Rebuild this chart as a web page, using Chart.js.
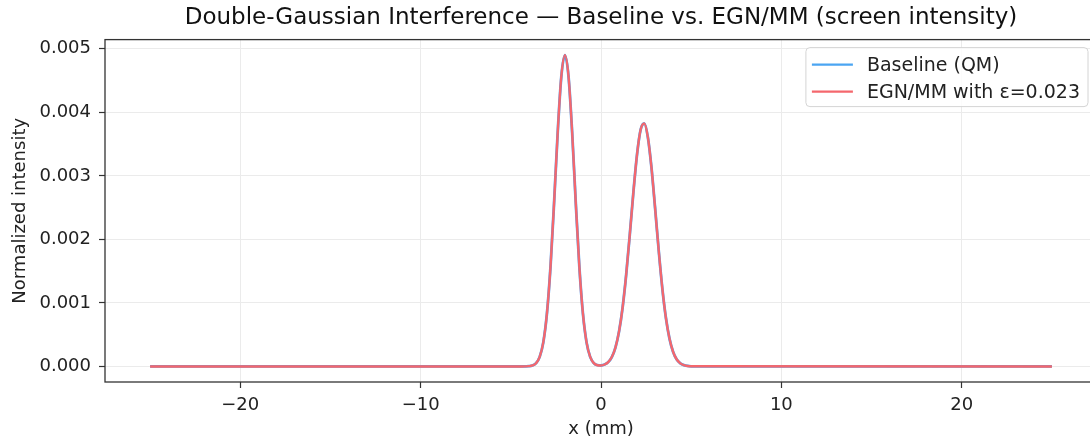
<!DOCTYPE html>
<html>
<head>
<meta charset="utf-8">
<title>Double-Gaussian Interference</title>
<script src="https://cdn.jsdelivr.net/npm/chart.js@4.4.1/dist/chart.umd.min.js"></script>
<style>
  html, body { margin: 0; padding: 0; background: #fff; overflow: hidden; }
  #wrap { width: 1110px; height: 440px; }
</style>
</head>
<body>
<div id="wrap"><canvas id="screenChart" width="1110" height="440"></canvas></div>
<script>
// screen position (mm)
const xPos = [
  -25,
  -4.4, -4.2, -4.0, -3.8, -3.6, -3.4, -3.2, -3.0, -2.8, -2.6,
  -2.4, -2.2, -2.0, -1.8, -1.6, -1.4, -1.2, -1.0, -0.8, -0.6,
  -0.4, -0.2, 0.0, 0.2, 0.4, 0.6, 0.8, 1.0, 1.2, 1.4,
  1.6, 1.8, 2.0, 2.2, 2.4, 2.6, 2.8, 3.0, 3.2, 3.4,
  3.6, 3.8, 4.0, 4.2, 4.4, 4.6, 4.8, 5.0,
  25
];

// normalized intensity, plain QM
const baseline = [
  0,
  0.000000, 0.000001, 0.000004, 0.000015, 0.000051, 0.000150, 0.000378, 0.000826, 0.001568, 0.002582,
  0.003686, 0.004564, 0.004900, 0.004564, 0.003686, 0.002582, 0.001568, 0.000826, 0.000378, 0.000150,
  0.000052, 0.000019, 0.000015, 0.000030, 0.000068, 0.000148, 0.000297, 0.000549, 0.000932, 0.001455,
  0.002088, 0.002755, 0.003343, 0.003729, 0.003824, 0.003605, 0.003125, 0.002491, 0.001825, 0.001230,
  0.000762, 0.000434, 0.000227, 0.000109, 0.000048, 0.000020, 0.000007, 0.000002,
  0
];

// normalized intensity, EGN/MM correction
const egnmm = [
  0,
  0.000000, 0.000001, 0.000004, 0.000015, 0.000051, 0.000150, 0.000378, 0.000826, 0.001568, 0.002582,
  0.003686, 0.004564, 0.004900, 0.004564, 0.003686, 0.002582, 0.001568, 0.000826, 0.000378, 0.000150,
  0.000052, 0.000019, 0.000015, 0.000030, 0.000068, 0.000148, 0.000297, 0.000549, 0.000932, 0.001455,
  0.002088, 0.002755, 0.003343, 0.003729, 0.003824, 0.003605, 0.003125, 0.002491, 0.001825, 0.001230,
  0.000762, 0.000434, 0.000227, 0.000109, 0.000048, 0.000020, 0.000007, 0.000002,
  0
];

const xTicks = [-20, -10, 0, 10, 20];
const yTicks = [0, 0.001, 0.002, 0.003, 0.004, 0.005];

const FONT = '"DejaVu Sans", "Liberation Sans", sans-serif';
Chart.defaults.font.family = FONT;
Chart.defaults.color = '#222';

// 5% margins on both axes
function padded(vals) {
  const lo = Math.min(...vals), hi = Math.max(...vals);
  const m = (hi - lo) * 0.05;
  return [lo - m, hi + m];
}
const [xMin, xMax] = padded(xPos);
const [yMin, yMax] = padded(baseline.concat(egnmm));

const toPoints = ys => xPos.map((x, i) => ({ x: x, y: ys[i] }));

// axes frame + legend box in the top right corner
const frameAndLegend = {
  id: 'frameAndLegend',
  afterDatasetsDraw(chart) {
    const { ctx, chartArea: a } = chart;
    ctx.save();
    ctx.strokeStyle = '#333';
    ctx.lineWidth = 1.3;
    ctx.strokeRect(a.left, a.top, a.right - a.left, a.bottom - a.top);

    ctx.font = '19px ' + FONT;
    const sets = chart.data.datasets;
    const textW = Math.max(...sets.map(d => ctx.measureText(d.label).width));
    const padL = 6, sample = 41, gap = 14, padR = 8, rowH = 27;
    const w = padL + sample + gap + textW + padR;
    const h = 59;
    const right = a.right - 9, top = a.top + 8;
    const left = right - w;

    ctx.beginPath();
    ctx.roundRect(left, top, w, h, 4);
    ctx.fillStyle = 'rgba(255,255,255,0.85)';
    ctx.fill();
    ctx.strokeStyle = '#d4d4d4';
    ctx.lineWidth = 1;
    ctx.stroke();

    sets.forEach((d, i) => {
      const y = top + 17 + i * rowH;
      ctx.beginPath();
      ctx.moveTo(left + padL, y);
      ctx.lineTo(left + padL + sample, y);
      ctx.strokeStyle = d.borderColor;
      ctx.lineWidth = 2.4;
      ctx.stroke();
      ctx.fillStyle = '#222';
      ctx.textAlign = 'left';
      ctx.textBaseline = 'middle';
      ctx.fillText(d.label, left + padL + sample + gap, y + 1);
    });
    ctx.restore();
  }
};

new Chart(document.getElementById('screenChart'), {
  type: 'line',
  data: {
    datasets: [
      // baseline sits underneath, the EGN/MM curve is drawn over it
      { label: 'Baseline (QM)', data: toPoints(baseline), order: 2, borderColor: '#4ba5f2', borderWidth: 2.8, pointRadius: 0, cubicInterpolationMode: 'monotone' },
      { label: 'EGN/MM with ε=0.023', data: toPoints(egnmm), order: 1, borderColor: '#f4676d', borderWidth: 2.4, pointRadius: 0, cubicInterpolationMode: 'monotone' }
    ]
  },
  options: {
    responsive: false,
    animation: false,
    layout: { padding: { left: 0, right: 13, top: 0, bottom: 0 } },
    plugins: {
      legend: { display: false },
      tooltip: { enabled: false },
      title: {
        display: true,
        fullSize: false,
        text: 'Double-Gaussian Interference — Baseline vs. EGN/MM (screen intensity)',
        color: '#111',
        font: { size: 23, weight: 'normal' },
        padding: { top: 4, bottom: 8 }
      }
    },
    scales: {
      x: {
        type: 'linear',
        min: xMin,
        max: xMax,
        afterBuildTicks: s => { s.ticks = xTicks.map(v => ({ value: v })); },
        afterFit: s => { s.height = 58; },
        ticks: {
          font: { size: 18 },
          color: '#222',
          padding: 7,
          maxRotation: 0,
          callback: v => (v < 0 ? '\u2212' + Math.abs(v) : String(v))
        },
        grid: { color: '#ebebeb', lineWidth: 1, tickColor: '#333', tickLength: 6, tickWidth: 1.2 },
        border: { display: false },
        title: { display: true, text: 'x (mm)', font: { size: 18 }, color: '#222', padding: { top: 0, bottom: 0 } }
      },
      y: {
        type: 'linear',
        min: yMin,
        max: yMax,
        afterBuildTicks: s => { s.ticks = yTicks.map(v => ({ value: v })); },
        afterFit: s => { s.width = 105; },
        ticks: {
          font: { size: 18 },
          color: '#222',
          padding: 8,
          callback: v => v.toFixed(3)
        },
        grid: { color: '#ebebeb', lineWidth: 1, tickColor: '#333', tickLength: 6, tickWidth: 1.2 },
        border: { display: false },
        title: { display: true, text: 'Normalized intensity', font: { size: 18 }, color: '#222', padding: { top: 10, bottom: 0 } }
      }
    }
  },
  plugins: [frameAndLegend]
});
</script>
</body>
</html>
